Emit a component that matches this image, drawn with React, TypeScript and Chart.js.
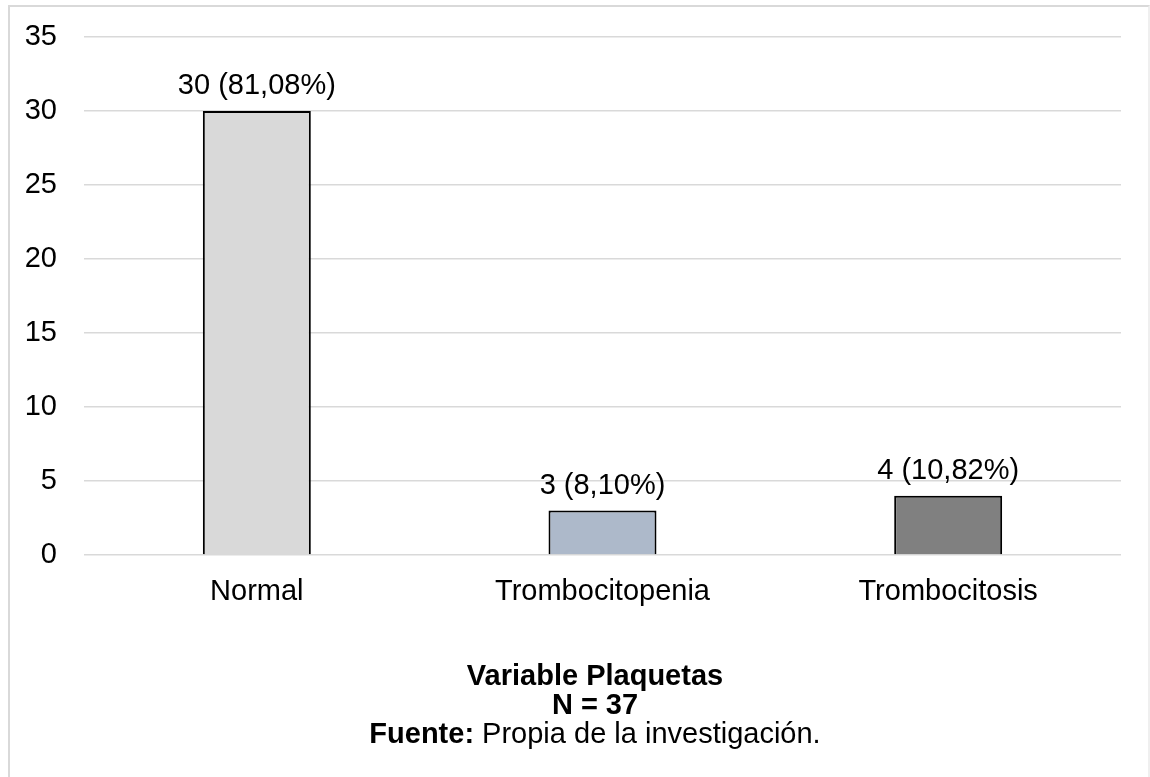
import React, { useEffect, useRef } from "react";
import { Chart, registerables } from "chart.js";

Chart.register(...registerables);

const categories = ["Normal", "Trombocitopenia", "Trombocitosis"];
const counts = [30, 3, 4];
const valueLabels = ["30 (81,08%)", "3 (8,10%)", "4 (10,82%)"];
const barColors = ["#D9D9D9", "#ADB9CA", "#808080"];
const captionTitle = "Variable Plaquetas";
const captionN = "N = 37";
const sourceBold = "Fuente:";
const sourceText = " Propia de la investigación.";

const FONT = '"Liberation Sans", Arial, sans-serif';
const FS = 29;

const valueLabelPlugin = {
  id: "valueLabels",
  afterDatasetsDraw(chart: any) {
    const ctx = chart.ctx;
    const meta = chart.getDatasetMeta(0);
    ctx.save();
    ctx.font = `${FS}px ${FONT}`;
    ctx.fillStyle = "#000";
    ctx.textAlign = "center";
    ctx.textBaseline = "alphabetic";
    meta.data.forEach((bar: any, i: number) => {
      ctx.fillText(valueLabels[i], bar.x, bar.y - 17);
    });
    ctx.restore();
  },
};

const captionPlugin = {
  id: "caption",
  afterDraw(chart: any) {
    const ctx = chart.ctx;
    const cx = 595;
    const base = chart.chartArea.bottom;
    ctx.save();
    ctx.fillStyle = "#000";
    ctx.textBaseline = "alphabetic";
    ctx.textAlign = "center";
    ctx.font = `bold ${FS}px ${FONT}`;
    ctx.fillText(captionTitle, cx, base + 130);
    ctx.fillText(captionN, cx, base + 159);
    const wb = ctx.measureText(sourceBold).width;
    ctx.font = `${FS}px ${FONT}`;
    const wn = ctx.measureText(sourceText).width;
    const start = cx - (wb + wn) / 2;
    ctx.textAlign = "left";
    ctx.font = `bold ${FS}px ${FONT}`;
    ctx.fillText(sourceBold, start, base + 188);
    ctx.font = `${FS}px ${FONT}`;
    ctx.fillText(sourceText, start + wb, base + 188);
    ctx.restore();
  },
};

export default function App() {
  const ref = useRef<HTMLCanvasElement>(null);
  useEffect(() => {
    if (!ref.current) return;
    const chart = new Chart(ref.current, {
      type: "bar",
      data: {
        labels: categories,
        datasets: [
          {
            data: counts,
            backgroundColor: barColors,
            borderColor: "#000000",
            borderWidth: 2,
            barPercentage: 0.3124,
            categoryPercentage: 1,
          },
        ],
      },
      options: {
        responsive: false,
        animation: false,
        devicePixelRatio: 1,
        layout: { padding: { top: 37, right: 29, left: 0, bottom: 0 } },
        plugins: {
          legend: { display: false },
          tooltip: { enabled: false },
          title: { display: false },
        },
        scales: {
          x: {
            grid: { display: false, drawTicks: false },
            border: { display: false },
            ticks: {
              color: "#000",
              font: { family: FONT, size: FS },
              padding: 20,
              maxRotation: 0,
            },
            afterFit(scale: any) {
              scale.height = 222;
              scale.paddingLeft = 0;
              scale.paddingRight = 0;
            },
          },
          y: {
            min: 0,
            max: 35,
            grid: { color: "#D9D9D9", lineWidth: 1.5, drawTicks: false },
            border: { display: false },
            ticks: {
              stepSize: 5,
              color: "#000",
              font: { family: FONT, size: FS },
              padding: 27,
            },
            afterFit(scale: any) {
              scale.width = 84;
              scale.paddingTop = 0;
              scale.paddingBottom = 0;
            },
          },
        },
      },
      plugins: [valueLabelPlugin, captionPlugin],
    });
    return () => chart.destroy();
  }, []);

  return (
    <>
      <div
        style={{
          position: "fixed",
          left: 8,
          top: 5,
          width: 1142,
          height: 800,
          boxSizing: "border-box",
          borderTop: "2px solid #d9d9d9",
          borderLeft: "2px solid #d9d9d9",
          borderRight: "2px solid #efefef",
          borderBottom: "2px solid #d9d9d9",
        }}
      />
      <canvas
        ref={ref}
        width={1150}
        height={777}
        style={{ position: "fixed", left: 0, top: 0, width: 1150, height: 777 }}
      />
    </>
  );
}
